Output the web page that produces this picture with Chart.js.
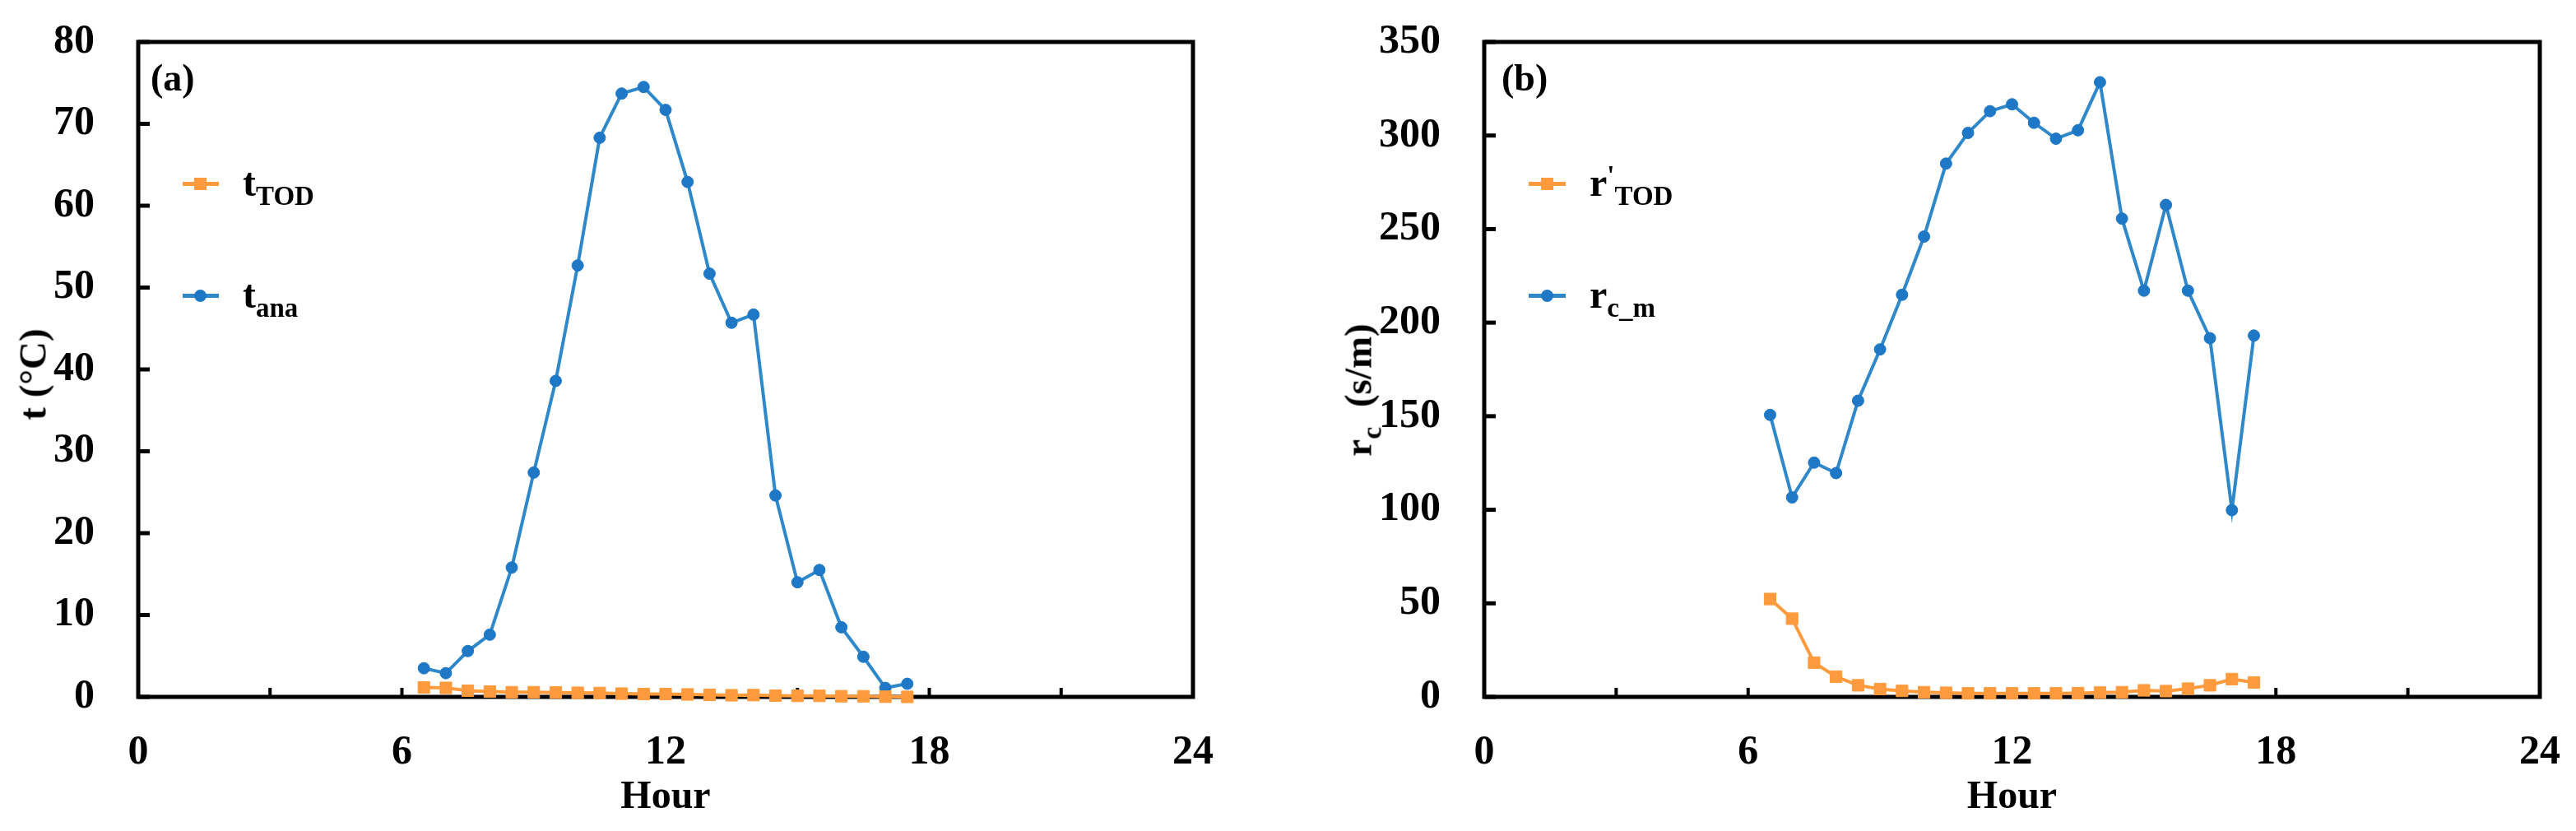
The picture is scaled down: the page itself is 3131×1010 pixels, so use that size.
<!DOCTYPE html>
<html lang="en">
<head>
   <meta charset="UTF-8">
   <title>Hourly t and rc</title>
   <script src="https://cdn.jsdelivr.net/npm/chart.js"></script>
   <style>
      body { margin: 0; background: #fff; font-family: "Liberation Serif", "Times New Roman", serif; font-weight: bold; }
      #page { position: relative; width: 3131px; height: 1010px; overflow: hidden; }
      canvas { position: absolute; top: 0; }
      .lbl { position: absolute; font-size: 48px; line-height: 48px; white-space: nowrap; color: #000; }
      .lbl sub { font-size: 33px; vertical-align: -11px; line-height: 0; }
      .lbl sup { font-size: 33px; vertical-align: 14px; line-height: 0; }
      .ytitle { position: absolute; font-size: 47px; line-height: 47px; white-space: pre; transform: translate(-50%, -50%) rotate(-90deg); }
      .ytitle sub { font-size: 34px; vertical-align: -12px; line-height: 0; margin-right: 12px; }
      .panel { position: absolute; font-size: 46px; line-height: 46px; }
      .lline { position: absolute; height: 5px; }
      .lmark { position: absolute; }
   </style>
</head>
<body>
<div id="page">
   <canvas id="chartA" width="1560" height="1010" style="left:0px"></canvas>
   <canvas id="chartB" width="1566" height="1010" style="left:1565px"></canvas>

   <div class="panel" style="left:183px; top:72px;">(a)</div>
   <div class="panel" style="left:1825px; top:72px;">(b)</div>

   <div class="ytitle" style="left:40px; top:455px;">t (°C)</div>
   <div class="ytitle" style="left:1651px; top:474px;">r<sub>c</sub> (s/m)</div>

   <!-- legend (a) -->
   <div class="lline" style="left:222px; top:221px; width:44px; background:#FF9B3D;"></div>
   <div class="lmark" style="left:236px; top:216px; width:15px; height:15px; background:#FF9B3D;"></div>
   <div class="lbl" style="left:295px; top:198px;">t<sub>TOD</sub></div>
   <div class="lline" style="left:222px; top:357px; width:44px; background:#2E88C9;"></div>
   <div class="lmark" style="left:236px; top:352px; width:15px; height:15px; border-radius:50%; background:#1F78C6;"></div>
   <div class="lbl" style="left:295px; top:334px;">t<sub>ana</sub></div>

   <!-- legend (b) -->
   <div class="lline" style="left:1858px; top:221px; width:45px; background:#FF9B3D;"></div>
   <div class="lmark" style="left:1873px; top:216px; width:15px; height:15px; background:#FF9B3D;"></div>
   <div class="lbl" style="left:1932px; top:198px;">r<sup>'</sup><sub>TOD</sub></div>
   <div class="lline" style="left:1858px; top:357px; width:45px; background:#2E88C9;"></div>
   <div class="lmark" style="left:1873px; top:352px; width:15px; height:15px; border-radius:50%; background:#1F78C6;"></div>
   <div class="lbl" style="left:1932px; top:334px;">r<sub>c_m</sub></div>
</div>

<script>
   // hours of the day (every half hour, 6:30 to 17:30)
   const hours = [6.5, 7, 7.5, 8, 8.5, 9, 9.5, 10, 10.5, 11, 11.5, 12,
                  12.5, 13, 13.5, 14, 14.5, 15, 15.5, 16, 16.5, 17, 17.5];

   // panel (a) : temperature
   const tTOD = [1.15, 1.1, 0.75, 0.65, 0.57, 0.57, 0.54, 0.5, 0.47, 0.4, 0.35, 0.35,
                 0.3, 0.25, 0.2, 0.22, 0.15, 0.13, 0.13, 0.08, 0.07, 0.02, 0.0];
   const tAna = [3.5, 2.9, 5.6, 7.6, 15.8, 27.4, 38.6, 52.7, 68.3, 73.7, 74.5, 71.7,
                 62.9, 51.7, 45.7, 46.7, 24.6, 14.0, 15.5, 8.5, 4.9, 1.1, 1.6];

   // panel (b) : resistance
   const rTOD = [52.3, 41.8, 18.3, 10.8, 6.2, 4.2, 3.2, 2.5, 2.2, 1.9, 1.9, 1.9,
                 1.9, 1.9, 2.0, 2.3, 2.5, 3.5, 3.1, 4.4, 6.2, 9.5, 7.7];
   const rcm = [150.7, 106.6, 125.2, 119.6, 158.3, 185.7, 214.9, 246.0, 285.0, 301.4, 313.0, 316.7,
                306.8, 298.3, 302.8, 328.5, 255.6, 217.1, 262.9, 217.1, 191.7, 99.8, 193.1];

   // axis ranges / ticks
   const xRange = [0, 24], xStep = 3, xLabelEvery = 6;
   const tRange = [0, 80], tStep = 10;
   const rRange = [0, 350], rStep = 50;

   const ORANGE = '#FF9B3D';
   const BLUE_LINE = '#2E88C9';
   const BLUE_PT = '#1F78C6';
   const FONT = { family: "'Liberation Serif', 'Times New Roman', serif", weight: 'bold', size: 50 };

   // box around the plot and inward ticks
   const framePlugin = {
      id: 'frame',
      beforeDatasetsDraw(chart) {
         const { ctx, chartArea: a, scales } = chart;
         ctx.save();
         ctx.strokeStyle = '#000';
         ctx.lineWidth = 4;
         scales.x.ticks.forEach(t => {
            const px = scales.x.getPixelForValue(t.value);
            ctx.beginPath(); ctx.moveTo(px, a.bottom); ctx.lineTo(px, a.bottom - 11); ctx.stroke();
         });
         ctx.lineWidth = 5;
         scales.y.ticks.forEach(t => {
            const py = scales.y.getPixelForValue(t.value);
            ctx.beginPath(); ctx.moveTo(a.left, py); ctx.lineTo(a.left + 14, py); ctx.stroke();
         });
         ctx.strokeRect(a.left, a.top, a.right - a.left, a.bottom - a.top);
         ctx.restore();
      }
   };

   function toPoints(ys) {
      return hours.map((h, i) => ({ x: h, y: ys[i] }));
   }

   function makeChart(id, series, yRange, yStep, yWidth, padRight) {
      return new Chart(document.getElementById(id), {
         type: 'line',
         data: {
            datasets: [
               {
                  data: toPoints(series[0]),
                  borderColor: ORANGE, backgroundColor: ORANGE,
                  borderWidth: 4, pointStyle: 'rect', pointRadius: 10, pointBorderWidth: 1,
                  clip: false
               },
               {
                  data: toPoints(series[1]),
                  borderColor: BLUE_LINE, backgroundColor: BLUE_PT, pointBorderColor: BLUE_PT,
                  borderWidth: 4, pointStyle: 'circle', pointRadius: 7, pointBorderWidth: 1,
                  clip: false
               }
            ]
         },
         options: {
            responsive: false,
            animation: false,
            devicePixelRatio: 1,
            layout: { padding: { top: 51, right: padRight, bottom: 0, left: 0 }, autoPadding: false },
            plugins: { legend: { display: false }, tooltip: { enabled: false } },
            scales: {
               x: {
                  type: 'linear', min: xRange[0], max: xRange[1],
                  grid: { display: false }, border: { display: false },
                  ticks: {
                     stepSize: xStep, padding: 30, color: '#000', font: FONT, maxRotation: 0,
                     callback: v => (v % xLabelEvery === 0 ? v : '')
                  },
                  title: { display: true, text: 'Hour', color: '#000', font: { ...FONT, size: 48 }, padding: { top: 0, bottom: 12 } },
                  afterFit: s => { s.height = 163; s.paddingLeft = 0; s.paddingRight = 0; }
               },
               y: {
                  min: yRange[0], max: yRange[1],
                  grid: { display: false }, border: { display: false },
                  ticks: { stepSize: yStep, padding: 45, color: '#000', font: FONT },
                  afterFit: s => { s.width = yWidth; s.paddingTop = 0; s.paddingBottom = 0; }
               }
            }
         },
         plugins: [framePlugin]
      });
   }

   makeChart('chartA', [tTOD, tAna], tRange, tStep, 168, 110);
   makeChart('chartB', [rTOD, rcm], rRange, rStep, 239, 44);
</script>
</body>
</html>
